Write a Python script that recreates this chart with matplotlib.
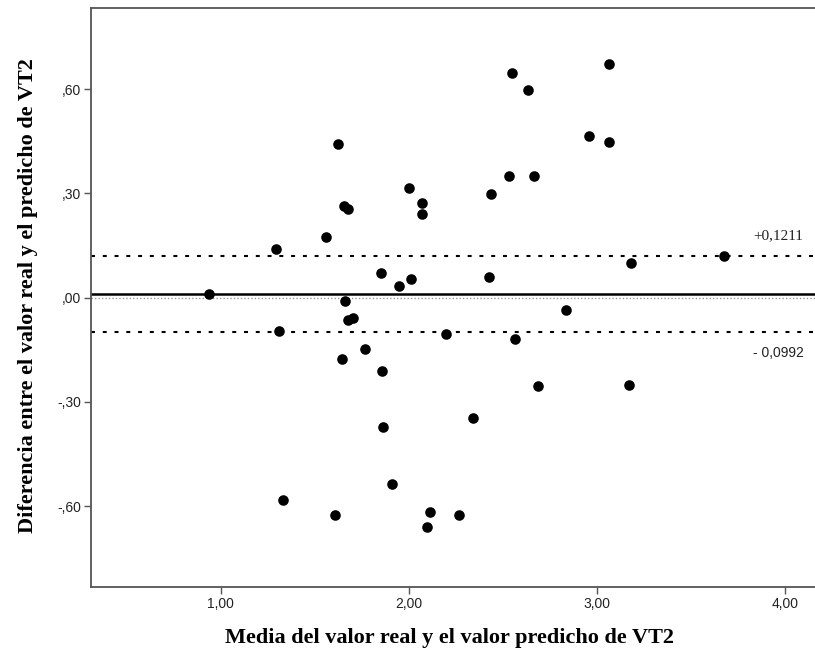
import matplotlib
matplotlib.use("Agg")
import matplotlib.pyplot as plt

# Bland-Altman data (mean, difference)
media = [0.936, 1.293, 1.307, 1.330, 1.622, 1.656, 1.674, 1.560, 2.002, 2.069,
         2.069, 1.849, 1.947, 2.012, 2.426, 2.436, 2.532, 2.667, 2.550, 2.635,
         2.956, 1.660, 1.677, 1.704, 2.833, 3.062, 3.066, 3.181, 3.677, 2.197,
         2.562, 1.766, 1.642, 1.856, 2.686, 2.342, 1.860, 1.908, 1.608, 2.112,
         2.094, 2.268, 3.169]
diferencia = [0.011, 0.140, -0.096, -0.583, 0.442, 0.265, 0.254, 0.175, 0.316, 0.273,
              0.240, 0.072, 0.035, 0.053, 0.059, 0.298, 0.351, 0.351, 0.647, 0.597,
              0.466, -0.010, -0.064, -0.058, -0.035, 0.672, 0.449, 0.099, 0.121, -0.104,
              -0.119, -0.147, -0.178, -0.210, -0.255, -0.345, -0.372, -0.537, -0.626, -0.616,
              -0.660, -0.626, -0.252]

limite_sup = 0.1211
limite_inf = -0.0992
sesgo = (limite_sup + limite_inf) / 2

xticks = [1, 2, 3, 4]
xticklabels = ["1,00", "2,00", "3,00", "4,00"]
yticks = [0.6, 0.3, 0.0, -0.3, -0.6]
yticklabels = [",60", ",30", ",00", "-,30", "-,60"]

fig = plt.figure(figsize=(8.15, 6.54), dpi=100)
ax = fig.add_axes([91/815, 1 - 587/654, 1 - 91/815, (587 - 8)/654])

ax.set_xlim(0.309, 4.16)
ax.set_ylim(-0.833, 0.834)

ax.axhline(0, color="#999999", lw=1.0, linestyle=(0, (1, 1.5)), zorder=1)
ax.axhline(sesgo, color="black", lw=1.8, zorder=2)
ax.axhline(limite_sup, color="black", lw=1.5, linestyle=(0, (1.9, 3.75)), zorder=2)
ax.axhline(limite_inf, color="black", lw=1.5, linestyle=(0, (1.9, 3.75)), zorder=2)

ax.scatter(media, diferencia, s=58, color="black", zorder=3, linewidths=0)

ax.text(3.963, 0.178, "+0,1211", family="Liberation Serif", fontsize=11,
        ha="center", va="center", color="#222222")
ax.text(3.963, -0.158, "- 0,0992", family="Liberation Sans", fontsize=10,
        ha="center", va="center", color="#222222")

ax.set_xticks(xticks)
ax.set_xticklabels(xticklabels)
ax.set_yticks(yticks)
ax.set_yticklabels(yticklabels)
ax.tick_params(direction="out", length=5, width=1.0, color="#555555",
               labelsize=10, labelcolor="#222222", pad=2)
for lbl in ax.get_xticklabels() + ax.get_yticklabels():
    lbl.set_family("Liberation Sans")

for side in ["left", "bottom", "top"]:
    ax.spines[side].set_color("#555555")
    ax.spines[side].set_linewidth(1.3)
ax.spines["right"].set_visible(False)

fig.text(449/815, 1 - 638/654, "Media del valor real y el valor predicho de VT2",
         family="Liberation Serif", fontweight="bold", fontsize=16,
         ha="center", va="center")
fig.text(28/815, 1 - 296/654, "Diferencia entre el valor real y el predicho de VT2",
         family="Liberation Serif", fontweight="bold", fontsize=16,
         ha="center", va="center", rotation=90)

fig.savefig("out.png", dpi=100)
